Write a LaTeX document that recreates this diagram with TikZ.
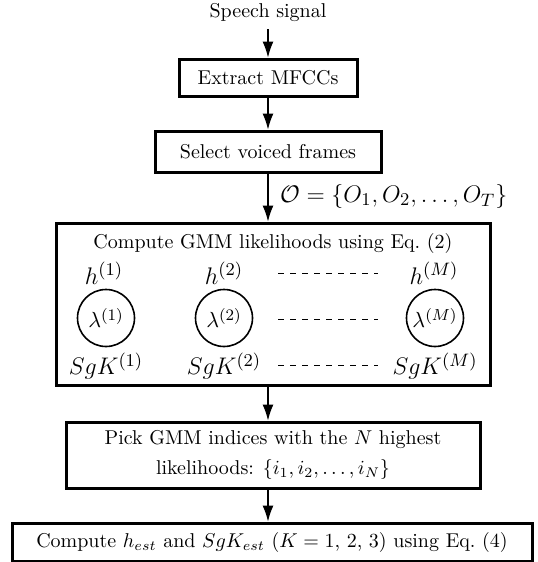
\documentclass[tikz,border=0pt]{standalone}
\usetikzlibrary{arrows.meta}
\begin{document}
\begin{tikzpicture}[x=0.5pt,y=-0.5pt,
 box/.style={draw,line width=1.5pt,inner sep=0pt,align=center},
 arr/.style={-{Latex[length=8pt,width=5.5pt]},line width=0.6pt},
 gm/.style={font=\fontsize{12.4}{15}\selectfont},
 lam/.style={draw,circle,line width=0.8pt,minimum size=28.5pt,inner sep=0pt,font=\fontsize{11}{13}\selectfont},
 dsh/.style={dashed,line width=0.5pt}]
\useasboundingbox (0,0) rectangle (537,562);
\node (speech) at (268,13) {Speech signal};
\node[box,minimum width=89pt,minimum height=18.5pt] (extract) at (268,77.5) {Extract MFCCs};
\node[box,minimum width=113pt,minimum height=20.5pt] (select) at (268,151.5) {Select voiced frames};
\node[box,minimum width=217pt,minimum height=81pt] (gmm) at (273,304) {};
\node (title) at (273,243) {Compute GMM likelihoods using Eq.~(2)};
\node[box,minimum width=207pt,minimum height=33pt] (pick) at (273,455) {Pick GMM indices with the $N$ highest\\[3pt] likelihoods: $\{i_1, i_2, \ldots, i_N\}$};
\node[box,minimum width=260pt,minimum height=19pt] (final) at (272,542) {Compute $h_{est}$ and $SgK_{est}$ ($K=1$, $2$, $3$) using Eq.~(4)};
% GMM contents
\node[gm] (h1) at (104,273) {$h^{(1)}$};
\node[gm] (h2) at (224,273) {$h^{(2)}$};
\node[gm] (hM) at (434,273) {$h^{(M)}$};
\node[lam] (l1) at (106,318) {$\lambda^{(1)}$};
\node[lam] (l2) at (224,318) {$\lambda^{(2)}$};
\node[lam] (lM) at (435,318) {$\lambda^{(M)}$};
\node[gm] (s1) at (106,366) {$SgK^{(1)}$};
\node[gm] (s2) at (224,366) {$SgK^{(2)}$};
\node[gm] (sM) at (435,366) {$SgK^{(M)}$};
\coordinate (d1a) at (278,273); \coordinate (d1b) at (378,273);
\coordinate (d2a) at (278,319); \coordinate (d2b) at (378,319);
\coordinate (d3a) at (278,365); \coordinate (d3b) at (378,365);
\draw[dsh] (d1a) -- (d1b);
\draw[dsh] (d2a) -- (d2b);
\draw[dsh] (d3a) -- (d3b);
% arrows
\draw[arr] (speech.south) -- (extract.north);
\draw[arr] (extract.south) -- (select.north);
\draw[arr] (select.south) -- (select.south |- gmm.north);
\draw[arr] (gmm.south -| select.south) -- (pick.north -| select.south);
\draw[arr] (pick.south -| select.south) -- (final.north -| select.south);
\node[gm,anchor=west] (obs) at (273,196) {$\mathcal{O}=\{O_1,O_2,\ldots,O_T\}$};
\end{tikzpicture}
\end{document}
